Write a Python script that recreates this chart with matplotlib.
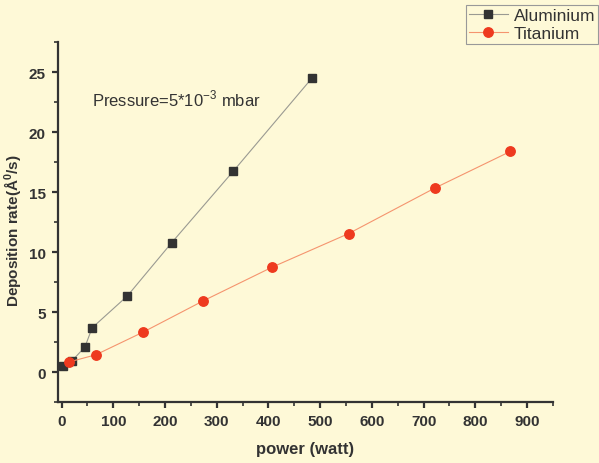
import matplotlib
matplotlib.use("Agg")
import matplotlib.pyplot as plt
from matplotlib.ticker import MultipleLocator

plt.rcParams['font.family'] = ['Liberation Sans', 'DejaVu Sans']
plt.rcParams['mathtext.fontset'] = 'custom'
plt.rcParams['mathtext.rm'] = 'Liberation Sans'
plt.rcParams['mathtext.bf'] = 'Liberation Sans:bold'

BG = '#FEF9D7'
TXT = '#333333'

# power (watt) vs deposition rate (A/s)
al_power = [2, 20, 45, 59, 127, 213, 332, 484]
al_rate = [0.5, 0.95, 2.1, 3.7, 6.35, 10.8, 16.75, 24.5]
ti_power = [14, 66, 158, 274, 407, 555, 722, 868]
ti_rate = [0.85, 1.45, 3.35, 5.95, 8.75, 11.55, 15.35, 18.4]

fig = plt.figure(figsize=(5.99, 4.64), dpi=100, facecolor=BG)
ax = fig.add_axes([0.096, 0.131, 0.827, 0.776], facecolor=BG)

ax.plot(al_power, al_rate, color='#9a9a92', lw=0.8, marker='s', ms=5.8,
        mfc='#333333', mec='#333333', label='Aluminium', zorder=3)
ax.plot(ti_power, ti_rate, color='#F5946E', lw=0.8, marker='o', ms=6.8,
        mfc='#EE3A1F', mec='#EE3A1F', label='Titanium', zorder=3)

ax.set_xlim(-8, 950)
ax.set_ylim(-2.5, 27.5)
ax.xaxis.set_major_locator(MultipleLocator(100))
ax.xaxis.set_minor_locator(MultipleLocator(50))
ax.yaxis.set_major_locator(MultipleLocator(5))
ax.yaxis.set_minor_locator(MultipleLocator(2.5))
ax.set_xticks(range(0, 1000, 100))

for s in ['top', 'right']:
    ax.spines[s].set_visible(False)
for s in ['left', 'bottom']:
    ax.spines[s].set_color(TXT)
    ax.spines[s].set_linewidth(1.6)
ax.tick_params(which='major', direction='out', length=4.5, width=1.6, colors=TXT,
               labelsize=11, pad=4)
ax.tick_params(which='minor', direction='out', length=3, width=1.2, colors=TXT)
for lab in ax.get_xticklabels() + ax.get_yticklabels():
    lab.set_fontweight('bold')

ax.set_xlabel('power (watt)', fontsize=12, fontweight='bold', color=TXT)
ax.xaxis.set_label_coords(0.5, -0.108)
ax.set_ylabel(r'Deposition rate(Å$^{\mathbf{0}}$/s)', fontsize=11,
              fontweight='bold', color=TXT)
ax.yaxis.set_label_coords(-0.068, 0.478)

ax.text(58, 22.8, r'Pressure=5*10$^{-3}$ mbar', fontsize=12, color=TXT,
        va='center', ha='left')

leg = fig.legend(loc='upper left', bbox_to_anchor=(466 / 599, 1 - 6 / 464),
                 fontsize=12.5, frameon=True, fancybox=False, edgecolor='#999999',
                 facecolor=BG, framealpha=1, handlelength=2.25,
                 borderpad=0.15, labelspacing=0.2, handletextpad=0.35,
                 borderaxespad=0)
leg.get_frame().set_linewidth(0.8)
for t in leg.get_texts():
    t.set_color(TXT)

fig.savefig('out.png', dpi=100, facecolor=BG)
